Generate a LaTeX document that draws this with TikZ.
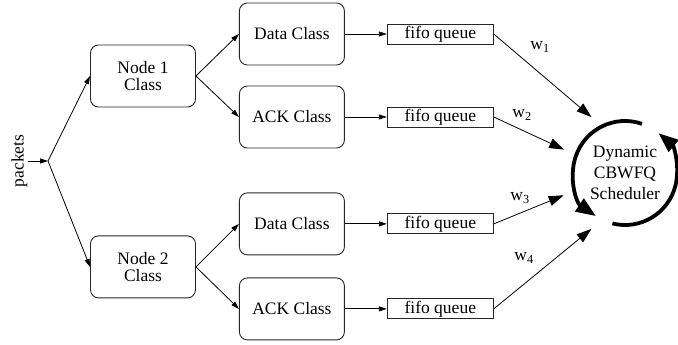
\documentclass[tikz,border=0pt]{standalone}
\usepackage{fontspec}
\setmainfont{Liberation Serif}
\usetikzlibrary{arrows.meta, positioning}

\begin{document}
\begin{tikzpicture}[x=1pt, y=1pt,
    classbox/.style={rectangle, rounded corners=8pt, draw=black!85, line width=0.9pt, minimum width=105pt, minimum height=62pt, align=center, inner sep=2pt, font=\fontsize{17.5}{17}\selectfont},
    fifobox/.style={rectangle, draw=black!85, line width=0.9pt, minimum width=106pt, minimum height=20pt, inner sep=0pt, font=\fontsize{17.5}{17}\selectfont},
    schedbox/.style={circle, minimum size=130pt, inner sep=0pt, align=center, font=\fontsize{17.5}{21}\selectfont},
    wlabel/.style={inner sep=0pt, font=\fontsize{17.5}{17}\selectfont},
    arrow/.style={-{Triangle[length=8pt, width=5pt]}, line width=0.8pt},
    bigarrow/.style={-{Triangle[length=15pt, width=10pt]}, line width=0.8pt},
    ring/.style={-{Triangle[length=20pt, width=15pt]}, line width=3.8pt}
]
\useasboundingbox (0,0) rectangle (678,345);

% classifier tree
\node[classbox] (n1) at (143,269) {Node 1\\Class};
\node[classbox, below=128pt of n1] (n2) {Node 2\\Class};
\node[classbox, right=43pt of n1, yshift=42pt] (d1) {Data Class};
\node[classbox, right=43pt of n1, yshift=-41pt] (a1) {ACK Class};
\node[classbox, right=43pt of n2, yshift=43pt] (d2) {Data Class};
\node[classbox, right=43pt of n2, yshift=-42pt] (a2) {ACK Class};

% queues
\node[fifobox, right=42pt of d1] (f1) {fifo queue};
\node[fifobox, right=42pt of a1] (f2) {fifo queue};
\node[fifobox, right=42pt of d2] (f3) {fifo queue};
\node[fifobox, right=42pt of a2] (f4) {fifo queue};

% input
\node[rotate=90, inner sep=0pt, font=\fontsize{17.5}{17}\selectfont] (ptext) at (19.5,184) {packets};
\coordinate (pk) at (48,184);

% scheduler
\node[schedbox] (sched) at (625,172) {Dynamic\\CBWFQ\\Scheduler};

\node[wlabel] (w1) at (540,298) {w\textsubscript{1}};
\node[wlabel] (w2) at (522,230) {w\textsubscript{2}};
\node[wlabel] (w3) at (520,147) {w\textsubscript{3}};
\node[wlabel] (w4) at (524,87) {w\textsubscript{4}};

\draw[arrow] (ptext.south) -- (pk);
\draw[arrow] (pk) -- (n1.west);
\draw[arrow] (pk) -- (n2.west);
\draw[arrow] (n1.east) -- (d1.west);
\draw[arrow] (n1.east) -- (a1.west);
\draw[arrow] (n2.east) -- (d2.west);
\draw[arrow] (n2.east) -- (a2.west);
\draw[arrow] (d1) -- (f1);
\draw[arrow] (a1) -- (f2);
\draw[arrow] (d2) -- (f3);
\draw[arrow] (a2) -- (f4);
\draw[bigarrow] (f1.east) -- (sched.121);
\draw[bigarrow] (f2.east) -- (sched.159);
\draw[bigarrow] (f3.east) -- (sched.200);
\draw[bigarrow] (f4.east) -- (sched.239);

\draw[ring] ([shift={(71:52)}]sched.center) arc[start angle=71, end angle=236, radius=52];
\draw[ring] ([shift={(256:52)}]sched.center) arc[start angle=256, end angle=410, radius=52];
\end{tikzpicture}
\end{document}
